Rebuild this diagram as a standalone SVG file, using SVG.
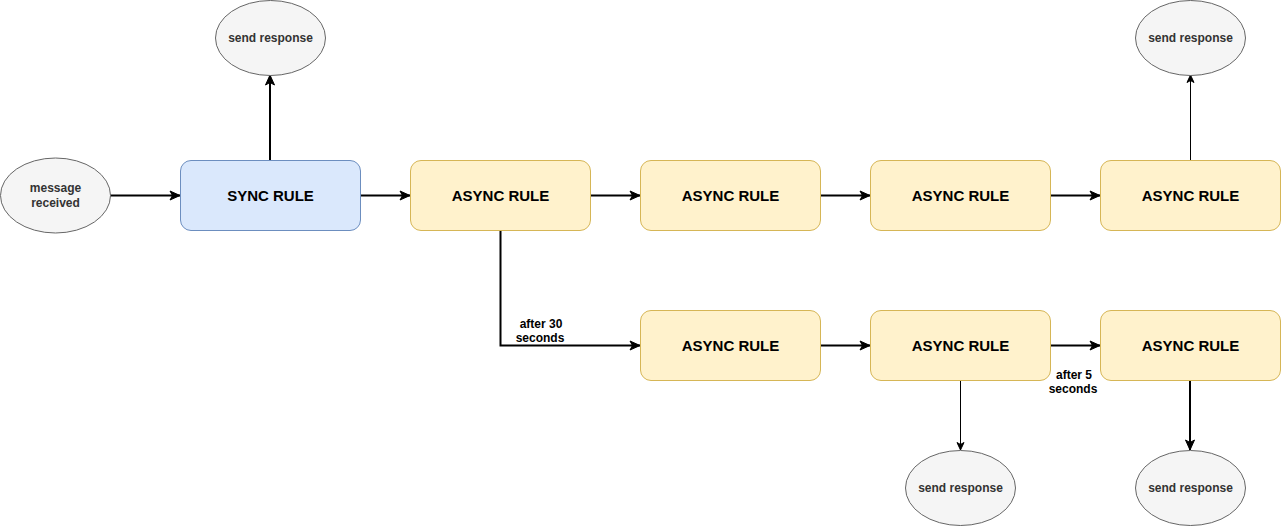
<svg xmlns="http://www.w3.org/2000/svg" width="1281" height="526" viewBox="0 0 1281 526">
<defs>
<marker id="arrowThick" markerUnits="userSpaceOnUse" markerWidth="12" markerHeight="12" viewBox="0 0 12 12" refX="11" refY="6" orient="auto">
<path d="M1,1.5 L11,6 L1,10.5 L3.5,6 Z" fill="#000" stroke="#000" stroke-width="1"/>
</marker>
<marker id="arrowThin" markerUnits="userSpaceOnUse" markerWidth="10" markerHeight="10" viewBox="0 0 10 10" refX="8.5" refY="5" orient="auto">
<path d="M1,1.5 L8.5,5 L1,8.5 L3,5 Z" fill="#000" stroke="#000" stroke-width="1"/>
</marker>
</defs>
<style>
.sync{fill:#dae8fc;stroke:#6c8ebf;stroke-width:1}
.async{fill:#fff2cc;stroke:#d6b656;stroke-width:1}
.ell{fill:#f5f5f5;stroke:#666666;stroke-width:1}
.lbl{font-family:"Liberation Sans",Arial,sans-serif;font-size:15px;font-weight:bold;fill:#000;text-anchor:middle;dominant-baseline:central}
.elbl{font-family:"Liberation Sans",Arial,sans-serif;font-size:12px;font-weight:bold;fill:#333333;text-anchor:middle;dominant-baseline:central}
.elab{font-family:"Liberation Sans",Arial,sans-serif;font-size:12px;font-weight:bold;fill:#000;text-anchor:middle;dominant-baseline:central}
.thick{fill:none;stroke:#000;stroke-width:2;marker-end:url(#arrowThick)}
.thin{fill:none;stroke:#000;stroke-width:1;marker-end:url(#arrowThin)}
</style>
<rect width="1281" height="526" fill="#ffffff"/>
<g id="connectors">
<path class="thick" d="M110,195.5 L180,195.5"/>
<path class="thick" d="M270,160 L270,75"/>
<path class="thick" d="M360,195.5 L410,195.5"/>
<path class="thick" d="M590,195.5 L640,195.5"/>
<path class="thick" d="M820,195.5 L870,195.5"/>
<path class="thick" d="M1050,195.5 L1100,195.5"/>
<path class="thin" d="M1190.5,160 L1190.5,75"/>
<path class="thick" d="M500.5,230 L500.5,345.5 L640,345.5"/>
<path class="thick" d="M820,345.5 L870,345.5"/>
<path class="thick" d="M1050,345.5 L1100,345.5"/>
<path class="thin" d="M960.5,380 L960.5,450"/>
<path class="thick" d="M1190,380 L1190,450"/>
<text class="elab" x="541" y="324">after 30</text>
<text class="elab" x="540" y="338">seconds</text>
<text class="elab" x="1074" y="375">after 5</text>
<text class="elab" x="1073" y="389">seconds</text>
</g>
<g id="message-received">
<ellipse class="ell" cx="55.5" cy="195.5" rx="55" ry="37.5"/>
<text class="elbl" x="55.5" y="188">message</text>
<text class="elbl" x="55.5" y="203">received</text>
</g>
<g id="sync-rule">
<rect class="sync" x="180.5" y="160.5" width="180" height="70" rx="10.5"/>
<text class="lbl" x="270.5" y="195.5">SYNC RULE</text>
</g>
<g id="send-response-1">
<ellipse class="ell" cx="270.5" cy="38" rx="55" ry="37.5"/>
<text class="elbl" x="270.5" y="38">send response</text>
</g>
<g id="async-rule-1">
<rect class="async" x="410.5" y="160.5" width="180" height="70" rx="10.5"/>
<text class="lbl" x="500.5" y="195.5">ASYNC RULE</text>
</g>
<g id="async-rule-2">
<rect class="async" x="640.5" y="160.5" width="180" height="70" rx="10.5"/>
<text class="lbl" x="730.5" y="195.5">ASYNC RULE</text>
</g>
<g id="async-rule-3">
<rect class="async" x="870.5" y="160.5" width="180" height="70" rx="10.5"/>
<text class="lbl" x="960.5" y="195.5">ASYNC RULE</text>
</g>
<g id="async-rule-4">
<rect class="async" x="1100.5" y="160.5" width="180" height="70" rx="10.5"/>
<text class="lbl" x="1190.5" y="195.5">ASYNC RULE</text>
</g>
<g id="send-response-2">
<ellipse class="ell" cx="1190.5" cy="38" rx="55" ry="37.5"/>
<text class="elbl" x="1190.5" y="38">send response</text>
</g>
<g id="async-rule-5">
<rect class="async" x="640.5" y="310.5" width="180" height="70" rx="10.5"/>
<text class="lbl" x="730.5" y="345.5">ASYNC RULE</text>
</g>
<g id="async-rule-6">
<rect class="async" x="870.5" y="310.5" width="180" height="70" rx="10.5"/>
<text class="lbl" x="960.5" y="345.5">ASYNC RULE</text>
</g>
<g id="async-rule-7">
<rect class="async" x="1100.5" y="310.5" width="180" height="70" rx="10.5"/>
<text class="lbl" x="1190.5" y="345.5">ASYNC RULE</text>
</g>
<g id="send-response-3">
<ellipse class="ell" cx="960.5" cy="488" rx="55" ry="37.5"/>
<text class="elbl" x="960.5" y="488">send response</text>
</g>
<g id="send-response-4">
<ellipse class="ell" cx="1190.5" cy="488" rx="55" ry="37.5"/>
<text class="elbl" x="1190.5" y="488">send response</text>
</g>
</svg>
